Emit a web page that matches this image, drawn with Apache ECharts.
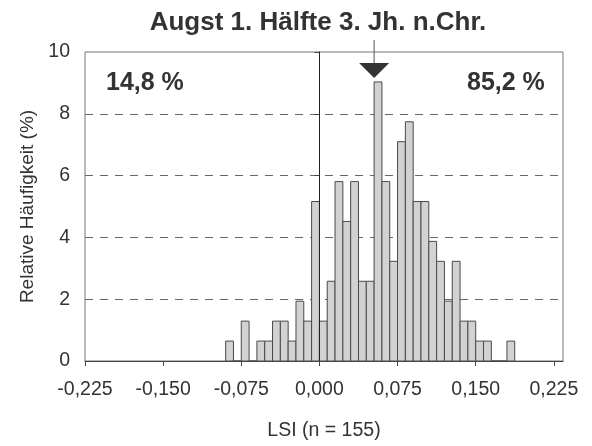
<!DOCTYPE html>
<html style="height: 100%">
<head>
    <meta charset="utf-8">
</head>
<body style="height: 100%; margin: 0; background: #fff">
    <div id="container" style="width: 592px; height: 446px"></div>
    <script src="https://cdn.jsdelivr.net/npm/echarts@6/dist/echarts.min.js"></script>
    <script type="text/javascript">
        // histogram: bins of 0.0075 starting at -0.09, counts out of n = 155
        var binStart = -0.09;
        var binWidth = 0.0075;
        var counts = [1, 0, 2, 0, 1, 1, 2, 2, 1, 3, 2, 8,
                      2, 4, 9, 7, 9, 4, 4, 14, 9, 5, 11, 12, 8, 8, 6, 5, 3, 5, 2, 2, 1, 1, 0, 0, 1];
        var n = 155;
        var meanLSI = 0.0525;
        var shareLeft = '14,8 %';
        var shareRight = '85,2 %';
        var xTicks = [-0.225, -0.150, -0.075, 0, 0.075, 0.150, 0.225];
        var xMin = -0.225, xMax = 0.2338;   // plot box runs a little past the last tick

        var bars = counts.map(function (c, i) {
            var x0 = binStart + i * binWidth;
            return [x0, x0 + binWidth, c / n * 100];
        });

        var dom = document.getElementById('container');
        var myChart = echarts.init(dom);
        var font = 'Liberation Sans, Arial, sans-serif';

        var option = {
            animation: false,
            backgroundColor: '#fff',
            title: {
                text: 'Augst 1. Hälfte 3. Jh. n.Chr.',
                left: 313, top: 5, textAlign: 'center',
                textStyle: { fontFamily: font, fontSize: 26, fontWeight: 'bold', color: '#333' }
            },
            grid: {
                left: 85, right: 29, top: 52, bottom: 79,
                show: true, borderColor: '#777', borderWidth: 1
            },
            xAxis: {
                type: 'value',
                min: xMin, max: xMax,
                name: 'LSI (n = 155)', nameLocation: 'middle', nameGap: 60,
                nameTextStyle: { fontFamily: font, fontSize: 19.5, color: '#333' },
                axisLine: { lineStyle: { color: '#444' } },
                axisTick: { show: true, length: 5, customValues: xTicks, lineStyle: { color: '#444' } },
                axisLabel: {
                    fontFamily: font, fontSize: 19.5, color: '#333', margin: 19,
                    customValues: xTicks,
                    formatter: function (v) { return v.toFixed(3).replace('.', ','); }
                },
                splitLine: { show: false }
            },
            yAxis: {
                type: 'value', min: 0, max: 10, interval: 2,
                name: 'Relative Häufigkeit (%)', nameLocation: 'middle', nameGap: 47,
                nameTextStyle: { fontFamily: font, fontSize: 19, color: '#333' },
                axisLine: { show: true, lineStyle: { color: '#444' } },
                axisTick: { show: true, length: 5, lineStyle: { color: '#444' } },
                axisLabel: { fontFamily: font, fontSize: 19.5, color: '#333', margin: 15 },
                splitLine: {
                    show: true, showMinLine: false, showMaxLine: false,
                    lineStyle: { color: '#666', type: [8, 7], width: 1 }
                }
            },
            series: [{
                type: 'custom',
                data: bars,
                encode: { x: [0, 1], y: 2 },
                renderItem: function (params, api) {
                    var p0 = api.coord([api.value(0), api.value(2)]);
                    var p1 = api.coord([api.value(1), 0]);
                    return {
                        type: 'rect',
                        shape: { x: p0[0], y: p0[1], width: p1[0] - p0[0], height: p1[1] - p0[1] },
                        style: { fill: '#d2d2d2', stroke: '#4a4a4a', lineWidth: 1 }
                    };
                },
                markLine: {
                    silent: true, symbol: 'none', label: { show: false },
                    lineStyle: { color: '#222', type: 'solid', width: 1 },
                    data: [{ xAxis: 0 }]
                },
                z: 2
            }, {
                // mean marker: pin line and downward triangle
                type: 'custom',
                data: [[meanLSI, 10]],
                clip: false,
                renderItem: function (params, api) {
                    var top = api.coord([api.value(0), api.value(1)]);
                    return {
                        type: 'group',
                        children: [{
                            type: 'line',
                            shape: { x1: top[0], y1: top[1] - 12, x2: top[0], y2: top[1] + 12 },
                            style: { stroke: '#555', lineWidth: 1 }
                        }, {
                            type: 'polygon',
                            shape: { points: [[top[0] - 15, top[1] + 11], [top[0] + 15, top[1] + 11], [top[0], top[1] + 26]] },
                            style: { fill: '#333' }
                        }]
                    };
                },
                z: 5
            }],
            graphic: [{
                type: 'text', left: 106, top: 71,
                style: { text: shareLeft, font: 'bold 25px ' + font, fill: '#333' }
            }, {
                type: 'text', left: 467, top: 71,
                style: { text: shareRight, font: 'bold 25px ' + font, fill: '#333' }
            }]
        };

        myChart.setOption(option);
    </script>
</body>
</html>
